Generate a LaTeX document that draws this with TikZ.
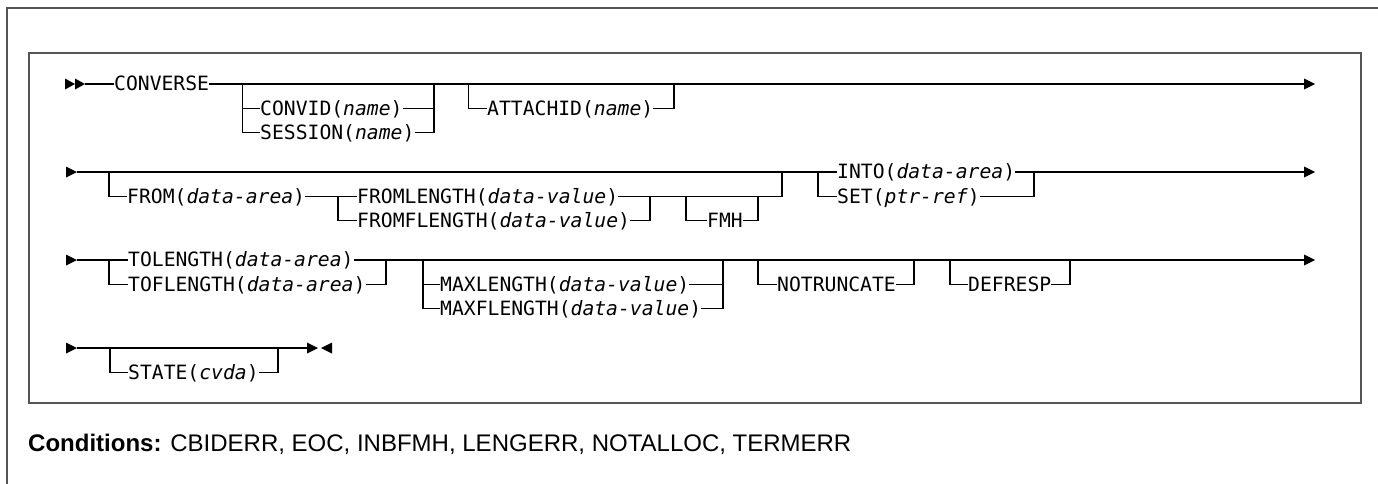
\documentclass[tikz,border=0pt]{standalone}
\usepackage{fontspec}
\setmainfont{Liberation Sans}
\newfontfamily\railfont{DejaVu Sans Mono}
\definecolor{framegray}{HTML}{555555}
\tikzset{
  frameline/.style={line width=2pt, draw=framegray},
  rail/.style={line width=1.4pt, draw=black, line join=miter},
  kw/.style={anchor=west, inner sep=0pt, text height=16pt, text depth=3pt,
             font=\railfont\fontsize{19.7pt}{22pt}\selectfont},
  tip/.style={fill=black},
}
\def\Ra{84}   \def\Raa{108.5} \def\Rab{132.5}
\def\Rb{172}  \def\Rba{196.5} \def\Rbb{220.5}
\def\Rc{260}  \def\Rca{284.5} \def\Rcb{308.5}
\def\Rd{348}  \def\Rda{372.5}
\begin{document}
\begin{tikzpicture}[x=1pt,y=-1pt]
\useasboundingbox (0,0) rectangle (1378,483);
% frames
\draw[frameline] (7,520) -- (7,8) -- (1420,8);
\draw[frameline] (29,53) rectangle (1361,403);

% ---------------- row 1
\fill[tip] (65,\Ra-5.5) -- (75,\Ra) -- (65,\Ra+5.5) -- cycle;
\fill[tip] (75,\Ra-5.5) -- (85,\Ra) -- (75,\Ra+5.5) -- cycle;
\coordinate (s1) at (85,\Ra);
\coordinate (e1) at (1304,\Ra);
\node[kw] (converse) at (114,\Ra) {CONVERSE};
\node[kw] (convid)   at (260,\Raa) {CONVID(\textit{name})};
\node[kw] (session)  at (260,\Rab) {SESSION(\textit{name})};
\node[kw] (attachid) at (487,\Raa) {ATTACHID(\textit{name})};
\coordinate (c1l) at (242.5,\Ra);
\coordinate (c1r) at (434,\Ra);
\coordinate (c2l) at (468.5,\Ra);
\coordinate (c2r) at (674,\Ra);
\draw[rail] (s1) -- (converse.west);
\draw[rail] (converse.east) -- (e1);
\draw[rail] (c1l) |- (session.west);
\draw[rail] (c1l |- convid.west) -- (convid.west);
\draw[rail] (convid.east) -- (c1r |- convid.east);
\draw[rail] (session.east) -| (c1r);
\draw[rail] (c2l) |- (attachid.west);
\draw[rail] (attachid.east) -| (c2r);
\fill[tip] (1304,\Ra-5.5) -- (1315,\Ra) -- (1304,\Ra+5.5) -- cycle;

% ---------------- row 2
\fill[tip] (66,\Rb-5.5) -- (77,\Rb) -- (66,\Rb+5.5) -- cycle;
\coordinate (s2) at (77,\Rb);
\coordinate (e2) at (1304,\Rb);
\node[kw] (from)        at (127,\Rba) {FROM(\textit{data-area})};
\node[kw] (fromlength)  at (357,\Rba) {FROMLENGTH(\textit{data-value})};
\node[kw] (fromflength) at (357,\Rbb) {FROMFLENGTH(\textit{data-value})};
\node[kw] (fmh)         at (707,\Rbb) {FMH};
\node[kw] (into)        at (837,\Rb)  {INTO(\textit{data-area})};
\node[kw] (set)         at (837,\Rba) {SET(\textit{ptr-ref})};
\coordinate (fl) at (109,\Rb);
\coordinate (fr) at (782,\Rb);
\coordinate (il) at (338,\Rba);
\coordinate (ir) at (650,\Rba);
\coordinate (ml) at (686,\Rba);
\coordinate (mr) at (758,\Rba);
\coordinate (nl) at (818,\Rb);
\coordinate (nr) at (1034,\Rb);
\draw[rail] (s2) -- (into.west);
\draw[rail] (into.east) -- (e2);
\draw[rail] (fl) |- (from.west);
\draw[rail] (from.east) -- (fromlength.west);
\draw[rail] (il) |- (fromflength.west);
\draw[rail] (fromlength.east) -| (fr);
\draw[rail] (fromflength.east) -| (ir);
\draw[rail] (ml) |- (fmh.west);
\draw[rail] (fmh.east) -| (mr);
\draw[rail] (nl) |- (set.west);
\draw[rail] (set.east) -| (nr);
\fill[tip] (1304,\Rb-5.5) -- (1315,\Rb) -- (1304,\Rb+5.5) -- cycle;

% ---------------- row 3
\fill[tip] (66,\Rc-5.5) -- (77,\Rc) -- (66,\Rc+5.5) -- cycle;
\coordinate (s3) at (77,\Rc);
\coordinate (e3) at (1304,\Rc);
\node[kw] (tolength)   at (128,\Rc)  {TOLENGTH(\textit{data-area})};
\node[kw] (toflength)  at (128,\Rca) {TOFLENGTH(\textit{data-area})};
\node[kw] (maxlength)  at (440,\Rca) {MAXLENGTH(\textit{data-value})};
\node[kw] (maxflength) at (440,\Rcb) {MAXFLENGTH(\textit{data-value})};
\node[kw] (notruncate) at (777,\Rca) {NOTRUNCATE};
\node[kw] (defresp)    at (968,\Rca) {DEFRESP};
\coordinate (tl) at (109,\Rc);
\coordinate (tr) at (386,\Rc);
\coordinate (xl) at (423,\Rc);
\coordinate (xr) at (723,\Rc);
\coordinate (ul) at (758,\Rc);
\coordinate (ur) at (914,\Rc);
\coordinate (dl) at (950,\Rc);
\coordinate (dr) at (1070,\Rc);
\draw[rail] (s3) -- (tolength.west);
\draw[rail] (tolength.east) -- (e3);
\draw[rail] (tl) |- (toflength.west);
\draw[rail] (toflength.east) -| (tr);
\draw[rail] (xl) |- (maxflength.west);
\draw[rail] (xl |- maxlength.west) -- (maxlength.west);
\draw[rail] (maxlength.east) -- (xr |- maxlength.east);
\draw[rail] (maxflength.east) -| (xr);
\draw[rail] (ul) |- (notruncate.west);
\draw[rail] (notruncate.east) -| (ur);
\draw[rail] (dl) |- (defresp.west);
\draw[rail] (defresp.east) -| (dr);
\fill[tip] (1304,\Rc-5.5) -- (1315,\Rc) -- (1304,\Rc+5.5) -- cycle;

% ---------------- row 4
\fill[tip] (66,\Rd-5.5) -- (77,\Rd) -- (66,\Rd+5.5) -- cycle;
\coordinate (s4) at (77,\Rd);
\coordinate (e4) at (307,\Rd);
\node[kw] (state) at (128,\Rda) {STATE(\textit{cvda})};
\coordinate (sl) at (110,\Rd);
\coordinate (sr) at (278,\Rd);
\draw[rail] (s4) -- (e4);
\draw[rail] (sl) |- (state.west);
\draw[rail] (state.east) -| (sr);
\fill[tip] (307,\Rd-5.5) -- (318,\Rd) -- (307,\Rd+5.5) -- cycle;
\fill[tip] (332,\Rd-5.5) -- (321,\Rd) -- (332,\Rd+5.5) -- cycle;

% ---------------- conditions
\node[anchor=base west, inner sep=0pt, font=\fontsize{24pt}{28pt}\selectfont]
  (conditions) at (28,451.5) {\textbf{Conditions:} CBIDERR, EOC, INBFMH, LENGERR, NOTALLOC, TERMERR};
\end{tikzpicture}
\end{document}
